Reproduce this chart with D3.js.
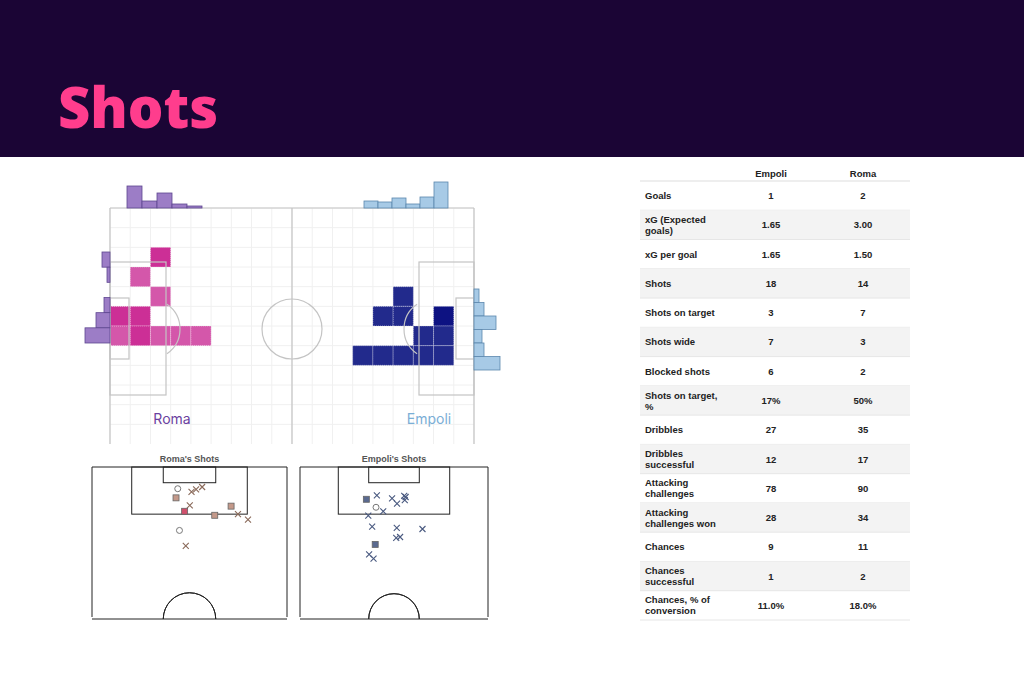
<!DOCTYPE html>
<html><head><meta charset="utf-8">
<script src="https://cdn.jsdelivr.net/npm/d3@7"></script>
<style>body{margin:0;background:#fff;font-family:"Liberation Sans",Arial,sans-serif}</style>
</head><body><svg id="chart" width="1024" height="683"></svg>
<script>
// heatmap cells: [col, row, value]
const romaCells = [[2,2,3],[1,3,2],[2,4,2],[0,5,3],[1,5,3],[0,6,2],[1,6,3],[2,6,2],[3,6,2],[4,6,2]];
const empoliCells = [[14,4,2],[13,5,2],[14,5,2],[16,5,3],[15,6,2],[16,6,2],[12,7,2],[13,7,2],[14,7,2],[15,7,2],[16,7,2]];
// marginal histograms
const romaTopHist = [22, 7, 15, 4, 2];
const romaSideHist = [8, 3, 0, 6, 14, 25];
const empoliTopHist = [7, 6, 10, 4, 11, 26];
const empoliSideHist = [5, 10, 22, 8, 10, 26];
// shots: [x (m across), y (m from goal line), type]
const romaShots = [[29.9,7.6,"o"],[29.3,10.8,"s"],[34.7,8.7,"x"],[36.3,7.8,"x"],[38.4,7.0,"x"],[34.1,13.4,"x"],[32.3,15.5,"g"],[42.8,16.9,"s"],[48.5,13.7,"s"],[50.9,16.5,"x"],[54.4,18.4,"x"],[30.5,22.2,"o"],[32.7,27.6,"x"]];
const empoliShots = [[24.0,11.3,"s"],[27.8,9.9,"x"],[33.3,11.0,"x"],[35.1,12.8,"x"],[37.7,10.1,"x"],[37.9,11.6,"x"],[38.2,10.5,"x"],[27.5,14.1,"o"],[30.1,15.5,"x"],[24.7,17.0,"x"],[26.1,20.9,"x"],[35.0,21.3,"x"],[44.3,21.7,"x"],[34.8,24.8,"x"],[36.2,24.5,"x"],[27.2,27.1,"s"],[25.0,30.6,"x"],[26.6,32.1,"x"]];
// table
const statLabels = [["Goals"],["xG (Expected","goals)"],["xG per goal"],["Shots"],["Shots on target"],["Shots wide"],["Blocked shots"],["Shots on target,","%"],["Dribbles"],["Dribbles","successful"],["Attacking","challenges"],["Attacking","challenges won"],["Chances"],["Chances","successful"],["Chances, % of","conversion"]];
const empoliVals = ["1","1.65","1.65","18","3","7","6","17%","27","12","78","28","9","1","11.0%"];
const romaVals = ["2","3.00","1.50","14","7","3","2","50%","35","17","90","34","11","2","18.0%"];

const svg = d3.select("#chart");
svg.append("rect").attr("width",1024).attr("height",157).attr("fill","#1b0535");
svg.append("text").attr("x",58).attr("y",128).attr("fill","#ff3d8d")
  .attr("font-family","'Open Sans', sans-serif").attr("font-weight",800).attr("font-size",56).text("Shots");

// ---- big pitch ----
const px = d3.scaleLinear().domain([0,18]).range([110,474]);
const py = d3.scaleLinear().domain([0,12]).range([208,444]);
const grid = svg.append("g").attr("stroke","#f0f0f0").attr("stroke-width",1);
d3.range(0,19).forEach(i=>grid.append("line").attr("x1",px(i)).attr("x2",px(i)).attr("y1",208).attr("y2",444));
d3.range(0,12).forEach(i=>grid.append("line").attr("x1",110).attr("x2",474).attr("y1",py(i)).attr("y2",py(i)));
const lines = svg.append("g").attr("stroke","#c4c4c4").attr("fill","none").attr("stroke-width",1.2);
lines.append("line").attr("x1",292).attr("x2",292).attr("y1",208).attr("y2",444);
lines.append("line").attr("x1",110).attr("x2",110).attr("y1",208).attr("y2",444);
lines.append("line").attr("x1",474).attr("x2",474).attr("y1",208).attr("y2",444);
lines.append("line").attr("x1",110).attr("x2",474).attr("y1",208).attr("y2",208);
lines.append("circle").attr("cx",292).attr("cy",329).attr("r",30);

function cells(data, colors){
  const c = d3.scaleOrdinal().domain([2,3]).range(colors);
  svg.append("g").selectAll("rect").data(data).join("rect")
    .attr("x",d=>px(d[0])).attr("y",d=>py(d[1]))
    .attr("width",px(1)-px(0)).attr("height",py(1)-py(0))
    .attr("fill",d=>c(d[2])).attr("stroke","#fff").attr("stroke-opacity",0.5).attr("stroke-dasharray","1,1");
}
cells(romaCells, ["#d457aa","#cc2f96"]);
cells(empoliCells, ["#222a8c","#0d1282"]);

// boxes drawn over cells
lines.raise();
lines.append("rect").attr("x",110).attr("y",262).attr("width",56).attr("height",133);
lines.append("rect").attr("x",110).attr("y",298).attr("width",19).attr("height",61);
lines.append("path").attr("d",d3.arc()({innerRadius:30,outerRadius:30,startAngle:0.6,endAngle:Math.PI-0.6})).attr("transform","translate(150,329)");
lines.append("rect").attr("x",419).attr("y",262).attr("width",55).attr("height",133);
lines.append("rect").attr("x",456).attr("y",298).attr("width",18).attr("height",61);
lines.append("path").attr("d",d3.arc()({innerRadius:30,outerRadius:30,startAngle:-0.6,endAngle:-Math.PI+0.6})).attr("transform","translate(434,329)");

function topHist(vals, x0, x1, fill, stroke){
  const bx = d3.scaleBand().domain(d3.range(vals.length)).range([x0,x1]);
  const h = d3.scaleLinear().domain([0,26]).range([0,26]);
  svg.append("g").selectAll("rect").data(vals).join("rect")
    .attr("x",(d,i)=>bx(i)).attr("y",d=>208-h(d)).attr("width",bx.bandwidth()).attr("height",d=>h(d))
    .attr("fill",fill).attr("stroke",stroke).attr("stroke-width",0.8);
}
function sideHist(vals, y0, y1, xb, dir, fill, stroke){
  const by = d3.scaleBand().domain(d3.range(vals.length)).range([y0,y1]);
  svg.append("g").selectAll("rect").data(vals).join("rect")
    .attr("x",d=>dir<0?xb-d:xb).attr("y",(d,i)=>by(i)).attr("width",d=>d).attr("height",by.bandwidth())
    .attr("fill",fill).attr("stroke",stroke).attr("stroke-width",0.8).attr("opacity",d=>d>0?1:0);
}
topHist(romaTopHist,127,202,"#9c7dc6","#5e4690");
sideHist(romaSideHist,252,343,110,-1,"#9c7dc6","#5e4690");
topHist(empoliTopHist,364,448,"#a7cae6","#5b87ad");
sideHist(empoliSideHist,289,370,474,1,"#a7cae6","#5b87ad");

svg.append("text").attr("x",172).attr("y",424).attr("text-anchor","middle").attr("font-family","Inter, sans-serif")
  .attr("font-size",14).attr("fill","#6b3fa0").text("Roma");
svg.append("text").attr("x",429).attr("y",424).attr("text-anchor","middle").attr("font-family","Inter, sans-serif")
  .attr("font-size",14).attr("fill","#7aaed6").text("Empoli");

// ---- shot maps ----
function shotMap(x0, x1, title, shots, color, fillSq){
  const sx = d3.scaleLinear().domain([0,68]).range([x0,x1]);
  const sy = d3.scaleLinear().domain([0,52.5]).range([467,617]);
  const g = svg.append("g");
  g.append("text").attr("x",(x0+x1)/2).attr("y",462).attr("text-anchor","middle")
    .attr("font-size",9).attr("font-weight",700).attr("fill","#555").text(title);
  const L = g.append("g").attr("fill","none").attr("stroke","#222").attr("stroke-width",1);
  L.append("path").attr("d",`M${x0},${sy(52.5)}V${sy(0)}H${x1}V${sy(52.5)}`);
  L.append("line").attr("x1",x0).attr("x2",x1).attr("y1",sy(52.5)+2).attr("y2",sy(52.5)+2);
  L.append("rect").attr("x",sx(13.85)).attr("y",sy(0)).attr("width",sx(54.15)-sx(13.85)).attr("height",sy(16.5)-sy(0));
  L.append("rect").attr("x",sx(24.85)).attr("y",sy(0)).attr("width",sx(43.15)-sx(24.85)).attr("height",sy(5.5)-sy(0));
  L.append("path").attr("d",d3.arc()({innerRadius:sx(9.15)-sx(0),outerRadius:sx(9.15)-sx(0),startAngle:-Math.PI/2,endAngle:Math.PI/2}))
    .attr("transform",`translate(${sx(34)},${sy(52.5)+2})`);
  shots.forEach(s=>{
    const cx = sx(s[0]), cy = sy(s[1]);
    if(s[2]==="x"){
      g.append("path").attr("d",`M${cx-3},${cy-3}L${cx+3},${cy+3}M${cx-3},${cy+3}L${cx+3},${cy-3}`).attr("stroke",color).attr("stroke-width",1.1);
    } else if(s[2]==="o"){
      g.append("circle").attr("cx",cx).attr("cy",cy).attr("r",3).attr("fill","none").attr("stroke","#777").attr("stroke-width",1);
    } else {
      g.append("rect").attr("x",cx-3).attr("y",cy-3).attr("width",6).attr("height",6)
        .attr("fill",s[2]==="g"?"#d0506c":fillSq).attr("stroke","#666").attr("stroke-width",0.8);
    }
  });
}
shotMap(92,287,"Roma's Shots",romaShots,"#8a6a5a","#c4998a");
shotMap(300,488,"Empoli's Shots",empoliShots,"#4a5a80","#5a6a90");

// ---- table ----
const ty = d3.scaleBand().domain(d3.range(statLabels.length)).range([181,620]);
const tg = svg.append("g").attr("font-size",9.5).attr("font-weight",700).attr("fill","#222");
tg.append("text").attr("x",771).attr("y",177).attr("text-anchor","middle").text("Empoli");
tg.append("text").attr("x",863).attr("y",177).attr("text-anchor","middle").text("Roma");
tg.append("line").attr("x1",640).attr("x2",910).attr("y1",181).attr("y2",181).attr("stroke","#ddd");
statLabels.forEach((lab,i)=>{
  const y = ty(i), h = ty.bandwidth(), cy = y + h/2;
  if(i%2===1) tg.append("rect").attr("x",640).attr("y",y).attr("width",270).attr("height",h).attr("fill","#f3f3f3");
  tg.append("line").attr("x1",640).attr("x2",910).attr("y1",y+h).attr("y2",y+h).attr("stroke","#e6e6e6");
  lab.forEach((t,j)=>tg.append("text").attr("x",645).attr("y",cy+3.5+(j-(lab.length-1)/2)*11).text(t));
  tg.append("text").attr("x",771).attr("y",cy+3.5).attr("text-anchor","middle").text(empoliVals[i]);
  tg.append("text").attr("x",863).attr("y",cy+3.5).attr("text-anchor","middle").text(romaVals[i]);
});
</script></body></html>
